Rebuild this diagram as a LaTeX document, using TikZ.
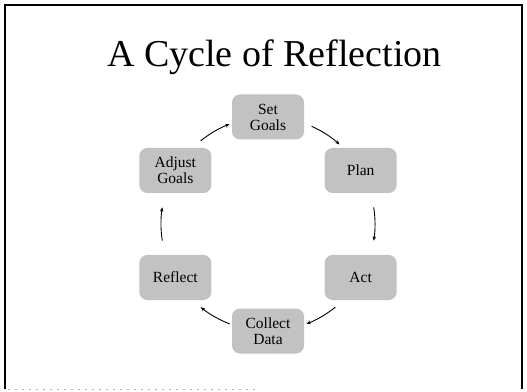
\documentclass[tikz,border=0pt]{standalone}
\usepackage{fontspec}
\setmainfont{Liberation Serif}
\usetikzlibrary{arrows.meta,calc}
\begin{document}
\begin{tikzpicture}[x=1pt,y=1pt,
  stepbox/.style={fill=black!24, rounded corners=8pt, minimum width=72pt, minimum height=45pt,
    inner sep=1pt, align=center, font=\fontsize{15.5}{16}\selectfont, text=black},
  arr/.style={draw=black, line width=0.9pt, -{Stealth[length=4.5pt,width=3.6pt]}},
  frame/.style={draw=black, line width=1.5pt}]
\useasboundingbox (0,0) rectangle (527,391);
% frame
\draw[frame] (5,2) -- (5,386) -- (522,386) -- (522,2);
\draw[black!30, line width=0.7pt, dash pattern=on 2pt off 5pt] (8,2) -- (255,2);
% title
\node[anchor=base, font=\fontsize{38}{40}\selectfont, inner sep=0pt] (title) at (274.5,324) {A Cycle of Reflection};
% centre of cycle
\coordinate (c) at (268,167);
\node[stepbox] (set) at ($(c)+(90:107)$) {Set\\Goals};
\node[stepbox] (plan) at ($(c)+(30:107)$) {Plan};
\node[stepbox] (act) at ($(c)+(-30:107)$) {Act};
\node[stepbox] (collect) at ($(c)+(-90:107)$) {Collect\\Data};
\node[stepbox] (reflect) at ($(c)+(-150:107)$) {Reflect};
\node[stepbox] (adjust) at ($(c)+(150:107)$) {Adjust\\Goals};
% arc start points
\coordinate (a1) at ($(c)+(66:107)$);
\coordinate (a2) at ($(c)+(9:107)$);
\coordinate (a3) at ($(c)+(-51:107)$);
\coordinate (a4) at ($(c)+(-111:107)$);
\coordinate (a5) at ($(c)+(189:107)$);
\coordinate (a6) at ($(c)+(129:107)$);
\draw[arr] (a1) arc[start angle=66, end angle=48, radius=107];
\draw[arr] (a2) arc[start angle=9, end angle=-9, radius=107];
\draw[arr] (a3) arc[start angle=-51, end angle=-69, radius=107];
\draw[arr] (a4) arc[start angle=-111, end angle=-129, radius=107];
\draw[arr] (a5) arc[start angle=189, end angle=171, radius=107];
\draw[arr] (a6) arc[start angle=129, end angle=111, radius=107];
\end{tikzpicture}
\end{document}
